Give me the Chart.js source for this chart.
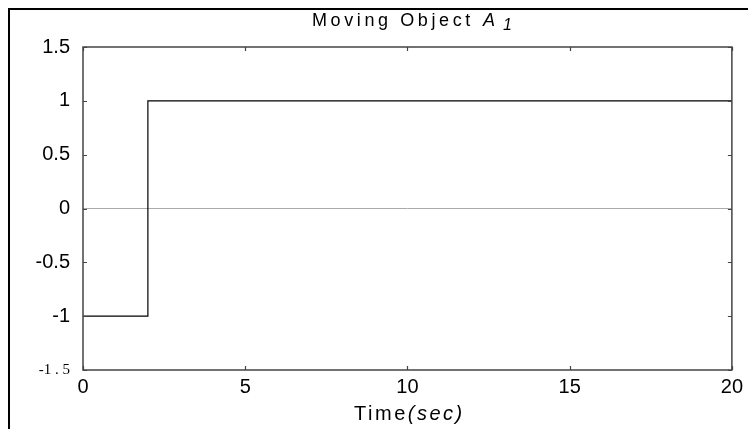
<!DOCTYPE html>
<html>
<head>
<meta charset="utf-8">
<script src="https://cdn.jsdelivr.net/npm/chart.js@4.4.1/dist/chart.umd.min.js"></script>
<style>
  html, body { margin: 0; padding: 0; background: #fff; }
  #wrap { width: 748px; height: 429px; position: relative; }
</style>
</head>
<body>
<div id="wrap"><canvas id="c" width="748" height="429"></canvas></div>
<script>
// Data
const timeValues = [0, 2, 20];
const signalValues = [-1, 1, 1];
const xTickValues = [0, 5, 10, 15, 20];
const yTickValues = [-1.5, -1, -0.5, 0, 0.5, 1, 1.5];
const titleMain = 'Moving Object';
const titleSymbol = 'A';
const titleSub = '1';
const xTitleMain = 'Time';
const xTitleUnit = '(sec)';

const SANS = '"Liberation Sans", Arial, sans-serif';
const SERIF = '"Liberation Serif", "Times New Roman", serif';

const points = timeValues.map((t, i) => ({ x: t, y: signalValues[i] }));

const decorPlugin = {
  id: 'decor',
  afterDraw(chart) {
    const ctx = chart.ctx;
    const a = chart.chartArea;
    const xs = chart.scales.x, ys = chart.scales.y;
    ctx.save();
    // outer figure frame (top & left)
    ctx.fillStyle = '#000';
    ctx.fillRect(8, 8, 740, 2);
    ctx.fillRect(8, 8, 2, 421);

    // axes box
    ctx.strokeStyle = '#444';
    ctx.lineWidth = 1.5;
    ctx.strokeRect(a.left, a.top, a.right - a.left, a.bottom - a.top);

    // inward ticks
    ctx.lineWidth = 1.2;
    ctx.beginPath();
    xTickValues.forEach(v => {
      const px = Math.round(xs.getPixelForValue(v)) + 0.5;
      ctx.moveTo(px, a.bottom); ctx.lineTo(px, a.bottom - 4);
      ctx.moveTo(px, a.top); ctx.lineTo(px, a.top + 4);
    });
    yTickValues.forEach(v => {
      const py = Math.round(ys.getPixelForValue(v)) + 0.5;
      ctx.moveTo(a.left, py); ctx.lineTo(a.left + 4, py);
      ctx.moveTo(a.right, py); ctx.lineTo(a.right - 4, py);
    });
    ctx.stroke();

    // title
    ctx.fillStyle = '#000';
    ctx.textBaseline = 'alphabetic';
    ctx.textAlign = 'left';
    ctx.font = '18px ' + SANS;
    ctx.letterSpacing = '3.6px';
    ctx.fillText(titleMain, 312, 26);
    ctx.letterSpacing = '0px';
    ctx.font = 'italic 18px ' + SANS;
    ctx.fillText(titleSymbol, 483, 26);
    ctx.font = 'italic 16px ' + SANS;
    ctx.fillText(titleSub, 503, 30);

    // x axis title
    ctx.font = '20px ' + SANS;
    ctx.letterSpacing = '2.5px';
    const w1 = ctx.measureText(xTitleMain).width;
    ctx.font = 'italic 20px ' + SANS;
    const w2 = ctx.measureText(xTitleUnit).width;
    const cx = (a.left + a.right) / 2;
    let x0 = cx - (w1 + w2) / 2 + 2;
    ctx.font = '20px ' + SANS;
    ctx.fillText(xTitleMain, x0, 420);
    ctx.font = 'italic 20px ' + SANS;
    ctx.fillText(xTitleUnit, x0 + w1, 420);
    ctx.restore();
  }
};

new Chart(document.getElementById('c'), {
  type: 'line',
  data: {
    datasets: [{
      data: points,
      borderColor: '#000',
      borderWidth: 1.2,
      pointRadius: 0,
      stepped: 'before',
      fill: false,
      tension: 0
    }]
  },
  options: {
    responsive: false,
    animation: false,
    devicePixelRatio: 1,
    layout: { padding: { left: 0, right: 12, top: 47, bottom: 0 } },
    plugins: { legend: { display: false }, tooltip: { enabled: false }, title: { display: false } },
    scales: {
      x: {
        type: 'linear',
        min: 0, max: 20,
        afterFit(scale) { scale.height = 59; },
        afterBuildTicks(scale) { scale.ticks = xTickValues.map(v => ({ value: v })); },
        grid: { display: false, drawTicks: false },
        border: { display: false },
        ticks: {
          color: '#000',
          padding: 5,
          maxRotation: 0,
          autoSkip: false,
          font: { family: SANS, size: 20 }
        }
      },
      y: {
        type: 'linear',
        min: -1.5, max: 1.5,
        afterFit(scale) { scale.width = 83; },
        afterBuildTicks(scale) { scale.ticks = yTickValues.map(v => ({ value: v })); },
        grid: {
          display: true,
          drawTicks: false,
          lineWidth: 1,
          color: (c) => (c.tick && c.tick.value === 0 ? '#aaaaaa' : 'rgba(0,0,0,0)')
        },
        border: { display: false },
        ticks: {
          color: '#000',
          padding: 13,
          autoSkip: false,
          callback: (v) => (v === -1.5 ? '-1 . 5' : String(v)),
          font: (c) => (c.tick && c.tick.value === -1.5)
            ? { family: SERIF, size: 15 }
            : { family: SANS, size: 20 }
        }
      }
    }
  },
  plugins: [decorPlugin]
});
</script>
</body>
</html>
